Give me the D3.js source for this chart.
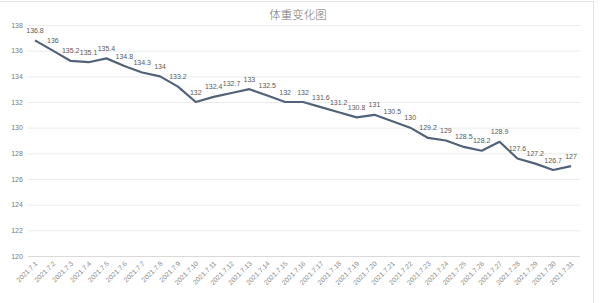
<!DOCTYPE html>
<html>
<head>
<meta charset="utf-8">
<script src="https://cdn.jsdelivr.net/npm/d3@7"></script>
<style>
  body { margin: 0; background: #fff; }
  svg { display: block; }
</style>
</head>
<body>
<div class="canvas"></div>
<script>
const dates = [
  "2021.7.1", "2021.7.2", "2021.7.3", "2021.7.4", "2021.7.5", "2021.7.6",
  "2021.7.7", "2021.7.8", "2021.7.9", "2021.7.10", "2021.7.11", "2021.7.12",
  "2021.7.13", "2021.7.14", "2021.7.15", "2021.7.16", "2021.7.17", "2021.7.18",
  "2021.7.19", "2021.7.20", "2021.7.21", "2021.7.22", "2021.7.23", "2021.7.24",
  "2021.7.25", "2021.7.26", "2021.7.27", "2021.7.28", "2021.7.29", "2021.7.30",
  "2021.7.31"
];
const weights = [
  136.8, 136, 135.2, 135.1, 135.4, 134.8, 134.3, 134, 133.2, 132, 132.4, 132.7,
  133, 132.5, 132, 132, 131.6, 131.2, 130.8, 131, 130.5, 130, 129.2, 129,
  128.5, 128.2, 128.9, 127.6, 127.2, 126.7, 127
];
const yTicks = [120, 122, 124, 126, 128, 130, 132, 134, 136, 138];
const title = "体重变化图";

const width = 600, height = 303;

const svg = d3.select(".canvas")
  .append("svg")
  .attr("width", width)
  .attr("height", height);

// faint frame like the screenshot
svg.append("line")
  .attr("x1", 0).attr("x2", 594).attr("y1", 1.5).attr("y2", 1.5)
  .attr("stroke", "#e4e4e4");
svg.append("line")
  .attr("x1", 593.5).attr("x2", 593.5).attr("y1", 1).attr("y2", height)
  .attr("stroke", "#e4e4e4");

const x = d3.scalePoint()
  .domain(dates)
  .range([35, 571]);

const y = d3.scaleLinear()
  .domain([120, 138])
  .range([256, 25]);

// gridlines
svg.append("g")
  .selectAll("line")
  .data(yTicks)
  .enter()
  .append("line")
  .attr("x1", 28)
  .attr("x2", 580)
  .attr("y1", d => y(d) + 0.5)
  .attr("y2", d => y(d) + 0.5)
  .attr("stroke", d => d === 120 ? "#d9d9d9" : "#ebebeb")
  .attr("stroke-width", 1);

// y labels
svg.append("g")
  .selectAll("text")
  .data(yTicks)
  .enter()
  .append("text")
  .attr("x", 17)
  .attr("y", d => y(d) + 2.5)
  .attr("text-anchor", "middle")
  .attr("font-family", "Liberation Sans, Arial, sans-serif")
  .attr("font-size", 7)
  .attr("fill", "#7a7a7a")
  .text(d => d);

// x labels
svg.append("g")
  .selectAll("text")
  .data(dates)
  .enter()
  .append("text")
  .attr("transform", d => `translate(${x(d) + 3}, 264) rotate(-45)`)
  .attr("text-anchor", "end")
  .attr("font-family", "Liberation Sans, Arial, sans-serif")
  .attr("font-size", 6.8)
  .attr("fill", "#8a8a8a")
  .text(d => d);

// line
const line = d3.line()
  .x((d, i) => x(dates[i]))
  .y(d => y(d));

svg.append("path")
  .datum(weights)
  .attr("d", line)
  .attr("fill", "none")
  .attr("stroke", "#506379")
  .attr("stroke-width", 2.2)
  .attr("stroke-linejoin", "round");

// data labels
svg.append("g")
  .selectAll("text")
  .data(weights)
  .enter()
  .append("text")
  .attr("x", (d, i) => x(dates[i]))
  .attr("y", d => y(d) - 7.5)
  .attr("text-anchor", "middle")
  .attr("font-family", "Liberation Sans, Arial, sans-serif")
  .attr("font-size", 7)
  .attr("fill", "#5a5a5a")
  .text(d => d);

// title
svg.append("text")
  .attr("x", 298)
  .attr("y", 19)
  .attr("text-anchor", "middle")
  .attr("font-family", "Noto Sans CJK SC, sans-serif")
  .attr("font-weight", 300)
  .attr("font-size", 11.5)
  .attr("fill", "#777")
  .text(title);
</script>
</body>
</html>
